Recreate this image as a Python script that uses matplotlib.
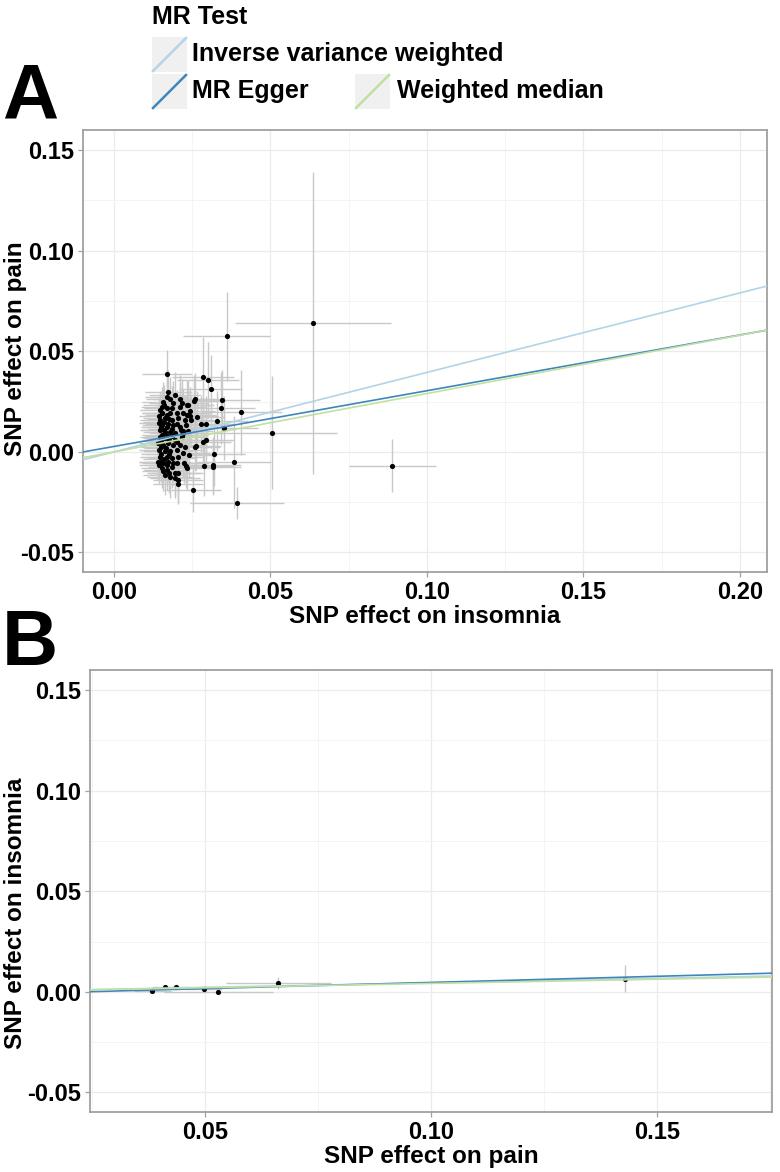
import matplotlib
matplotlib.use("Agg")
import matplotlib.pyplot as plt
from matplotlib.patches import Rectangle
from matplotlib.lines import Line2D
from matplotlib.ticker import FixedLocator, FixedFormatter

plt.rcParams['font.family'] = ['Liberation Sans', 'DejaVu Sans']
plt.rcParams['font.weight'] = 'bold'

# ---------------- data: panel A (insomnia -> pain) ----------------
a_x = [0.0637, 0.0360, 0.0890, 0.0504, 0.0393, 0.0407, 0.0383, 0.0346, 0.0342, 0.0328,
       0.0351, 0.0285, 0.0300, 0.0309, 0.0320, 0.0289, 0.0315, 0.0315, 0.0283, 0.0295,
       0.0279, 0.0293, 0.0168, 0.0251, 0.0264, 0.0257, 0.0259, 0.0235, 0.0244, 0.0234,
       0.0247, 0.0261, 0.0259, 0.0236, 0.0221, 0.0219, 0.0241, 0.0234, 0.0230, 0.0202,
       0.0224, 0.0204, 0.0194, 0.0205, 0.0176, 0.0158, 0.0150,
       0.0174, 0.0195, 0.0168, 0.0179, 0.0158, 0.0211, 0.0216, 0.0152, 0.0147, 0.0168,
       0.0184, 0.0211, 0.0232, 0.0155, 0.0179, 0.0200, 0.0221, 0.0237, 0.0147, 0.0163,
       0.0184, 0.0205, 0.0227, 0.0243, 0.0144, 0.0155, 0.0168, 0.0190, 0.0211, 0.0230,
       0.0147, 0.0163, 0.0179, 0.0195, 0.0216, 0.0147, 0.0163, 0.0176, 0.0195, 0.0216,
       0.0142, 0.0158, 0.0174, 0.0190, 0.0211, 0.0227, 0.0144, 0.0163, 0.0179, 0.0200,
       0.0221, 0.0147, 0.0168, 0.0184, 0.0205, 0.0142, 0.0158, 0.0174, 0.0152, 0.0168,
       0.0184, 0.0195, 0.0163, 0.0179, 0.0205,
       0.0150, 0.0160, 0.0172, 0.0155, 0.0170, 0.0185, 0.0150, 0.0165, 0.0150, 0.0175,
       0.0160, 0.0190, 0.0145, 0.0170, 0.0188, 0.0160, 0.0200, 0.0185, 0.0200, 0.0145,
       0.0170, 0.0155, 0.0213, 0.0160, 0.0177, 0.0150]
a_y = [0.0640, 0.0574, -0.0068, 0.0096, -0.0254, 0.0197, -0.0050, 0.0259, 0.0217, 0.0154,
       0.0119, 0.0372, 0.0358, 0.0312, -0.0010, -0.0068, -0.0067, -0.0076, 0.0048, 0.0058,
       0.0138, 0.0138, 0.0386, -0.0189, 0.0171, 0.0254, 0.0264, 0.0234, 0.0204, 0.0184,
       0.0159, 0.0031, 0.0026, 0.0104, 0.0096, 0.0106, -0.0015, -0.0081, -0.0068, -0.0056,
       -0.0056, -0.0103, -0.0131, -0.0158, -0.0103, -0.0093, -0.0048,
       0.0300, 0.0284, 0.0275, 0.0264, 0.0250, 0.0264, 0.0242, 0.0225, 0.0209, 0.0217,
       0.0217, 0.0225, 0.0234, 0.0192, 0.0192, 0.0192, 0.0192, 0.0184, 0.0159, 0.0168,
       0.0159, 0.0168, 0.0159, 0.0176, 0.0143, 0.0134, 0.0126, 0.0134, 0.0126, 0.0134,
       0.0109, 0.0101, 0.0101, 0.0093, 0.0085, 0.0076, 0.0068, 0.0060, 0.0060, 0.0076,
       0.0043, 0.0035, 0.0043, 0.0035, 0.0035, 0.0026, 0.0010, 0.0002, 0.0002, 0.0010,
       -0.0007, -0.0023, -0.0023, -0.0031, -0.0023, -0.0048, -0.0053, -0.0048, -0.0081, -0.0090,
       -0.0073, -0.0106, -0.0114, -0.0123, -0.0139,
       0.0125, 0.0150, 0.0140, 0.0085, 0.0080, 0.0115, 0.0055, 0.0020, -0.0010, -0.0010,
       -0.0035, -0.0055, 0.0180, 0.0185, 0.0245, 0.0235, 0.0140, 0.0080, 0.0050, -0.0065,
       -0.0065, 0.0195, 0.0110, 0.0110, 0.0165, 0.0025]
a_xerr = [0.0249, 0.0140, 0.0139, 0.0210, 0.0150, 0.0130, 0.0120, 0.0120, 0.0110, 0.0100,
          0.0110, 0.0100, 0.0100, 0.0100, 0.0100, 0.0090, 0.0090, 0.0090, 0.0090, 0.0090,
          0.0090, 0.0090, 0.0080, 0.0090, 0.0090, 0.0090, 0.0090, 0.0080, 0.0080, 0.0080,
          0.0080, 0.0080, 0.0080, 0.0080, 0.0080, 0.0080, 0.0080, 0.0080, 0.0080, 0.0080,
          0.0080, 0.0080, 0.0080, 0.0080, 0.0070, 0.0070, 0.0070,
          0.0075, 0.0082, 0.0070, 0.0078, 0.0068, 0.0085, 0.0086, 0.0066, 0.0064, 0.0071,
          0.0077, 0.0083, 0.0088, 0.0067, 0.0074, 0.0080, 0.0085, 0.0090, 0.0065, 0.0069,
          0.0076, 0.0081, 0.0086, 0.0090, 0.0063, 0.0067, 0.0072, 0.0078, 0.0083, 0.0088,
          0.0064, 0.0069, 0.0074, 0.0079, 0.0084, 0.0064, 0.0070, 0.0073, 0.0079, 0.0084,
          0.0062, 0.0068, 0.0073, 0.0078, 0.0083, 0.0087, 0.0063, 0.0069, 0.0074, 0.0080,
          0.0085, 0.0064, 0.0070, 0.0075, 0.0081, 0.0062, 0.0068, 0.0073, 0.0066, 0.0071,
          0.0076, 0.0079, 0.0070, 0.0074, 0.0081,
          0.0065, 0.0068, 0.0072, 0.0067, 0.0071, 0.0076, 0.0065, 0.0070, 0.0065, 0.0073,
          0.0068, 0.0077, 0.0064, 0.0071, 0.0076, 0.0068, 0.0080, 0.0076, 0.0080, 0.0064,
          0.0071, 0.0067, 0.0083, 0.0068, 0.0073, 0.0065]
a_yerr = [0.0750, 0.0220, 0.0133, 0.0280, 0.0080, 0.0210, 0.0230, 0.0150, 0.0180, 0.0150,
          0.0160, 0.0200, 0.0190, 0.0170, 0.0160, 0.0150, 0.0140, 0.0140, 0.0130, 0.0130,
          0.0140, 0.0140, 0.0120, 0.0110, 0.0130, 0.0130, 0.0130, 0.0120, 0.0120, 0.0120,
          0.0120, 0.0120, 0.0120, 0.0110, 0.0110, 0.0110, 0.0110, 0.0110, 0.0110, 0.0100,
          0.0100, 0.0100, 0.0100, 0.0100, 0.0100, 0.0100, 0.0100,
          0.0105, 0.0115, 0.0102, 0.0108, 0.0098, 0.0118, 0.0120, 0.0096, 0.0094, 0.0101,
          0.0110, 0.0117, 0.0124, 0.0097, 0.0107, 0.0114, 0.0121, 0.0126, 0.0093, 0.0099,
          0.0109, 0.0116, 0.0122, 0.0127, 0.0092, 0.0096, 0.0101, 0.0111, 0.0118, 0.0124,
          0.0093, 0.0099, 0.0106, 0.0112, 0.0120, 0.0094, 0.0100, 0.0104, 0.0112, 0.0119,
          0.0091, 0.0097, 0.0103, 0.0110, 0.0117, 0.0123, 0.0092, 0.0099, 0.0106, 0.0113,
          0.0121, 0.0094, 0.0101, 0.0108, 0.0115, 0.0091, 0.0097, 0.0103, 0.0096, 0.0101,
          0.0108, 0.0112, 0.0099, 0.0106, 0.0115,
          0.0095, 0.0098, 0.0104, 0.0097, 0.0102, 0.0109, 0.0095, 0.0101, 0.0095, 0.0105,
          0.0098, 0.0110, 0.0093, 0.0102, 0.0109, 0.0098, 0.0113, 0.0109, 0.0113, 0.0093,
          0.0102, 0.0097, 0.0117, 0.0098, 0.0104, 0.0095]

# ---------------- data: panel B (pain -> insomnia) ----------------
b_x = [0.0384, 0.0412, 0.0436, 0.0498, 0.0530, 0.0662, 0.1430]
b_y = [0.0005, 0.0023, 0.0025, 0.0016, 0.0001, 0.0046, 0.0065]
b_xerr = [0.0040, 0.0030, 0.0030, 0.0040, 0.0120, 0.0116, 0.0020]
b_yerr = [0.0010, 0.0010, 0.0010, 0.0012, 0.0010, 0.0030, 0.0067]

# MR method fits (intercept, slope)
methods = ["Inverse variance weighted", "MR Egger", "Weighted median"]
colors = ["#b3d3e6", "#3f86bb", "#c2e0a3"]
a_fit = [(0.0, 0.395), (0.0027, 0.277), (0.0, 0.290)]
b_fit = [(0.0, 0.045), (-0.0014, 0.061), (0.0, 0.042)]

x_ticks_a = [0.00, 0.05, 0.10, 0.15, 0.20]
x_labels_a = ["0.00", "0.05", "0.10", "0.15", "0.20"]
x_ticks_b = [0.05, 0.10, 0.15]
x_labels_b = ["0.05", "0.10", "0.15"]
y_ticks = [-0.05, 0.00, 0.05, 0.10, 0.15]
y_labels = ["-0.05", "0.00", "0.05", "0.10", "0.15"]

W, H = 780, 1172
fig = plt.figure(figsize=(W / 100, H / 100), dpi=100)


def fx(px):
    return px / W


def fy(py):
    return 1 - py / H


def style_axes(ax, xt, xl, xminor, xlim, xlabel, ylabel, left_px, width_px,
               ylab_center):
    ax.set_xlim(*xlim)
    ax.set_ylim(-0.0597, 0.160)
    ax.xaxis.set_major_locator(FixedLocator(xt))
    ax.xaxis.set_major_formatter(FixedFormatter(xl))
    ax.xaxis.set_minor_locator(FixedLocator(xminor))
    ax.yaxis.set_major_locator(FixedLocator(y_ticks))
    ax.yaxis.set_major_formatter(FixedFormatter(y_labels))
    ax.yaxis.set_minor_locator(FixedLocator([-0.025, 0.025, 0.075, 0.125]))
    ax.grid(True, which='major', color='#ebebeb', linewidth=0.9, zorder=0)
    ax.grid(True, which='minor', color='#f4f4f4', linewidth=0.7, zorder=0)
    ax.set_axisbelow(True)
    for s in ax.spines.values():
        s.set_color('#a0a0a0')
        s.set_linewidth(1.3)
    ax.tick_params(which='major', length=3.5, width=0.9, color='#a0a0a0',
                   labelsize=17, pad=3, labelcolor='black')
    ax.tick_params(which='minor', length=0)
    for lab in ax.get_xticklabels() + ax.get_yticklabels():
        lab.set_fontweight('bold')
    ax.set_xlabel(xlabel, fontsize=17.5, fontweight='bold', labelpad=1)
    ax.set_ylabel(ylabel, fontsize=17.5, fontweight='bold')
    ax.yaxis.set_label_coords((27 - left_px) / width_px, ylab_center)


# ---------------- Panel A ----------------
axA = fig.add_axes([fx(83), fy(572), (767 - 83) / W, (572 - 130) / H])
style_axes(axA, x_ticks_a, x_labels_a, [0.025, 0.075, 0.125, 0.175],
           (-0.0099, 0.2087), "SNP effect on insomnia", "SNP effect on pain",
           83, 684, 0.505)
axA.errorbar(a_x, a_y, xerr=a_xerr, yerr=a_yerr, fmt='none', ecolor='#c8c8c8',
             elinewidth=1.0, capsize=0, zorder=2)
axA.scatter(a_x, a_y, s=14, color='black', zorder=3, linewidths=0)
for (b0, b1), c in zip(a_fit, colors):
    axA.axline((0, b0), slope=b1, color=c, linewidth=1.2, zorder=4)

# ---------------- Panel B ----------------
axB = fig.add_axes([fx(90), fy(1112), (772 - 90) / W, (1112 - 670) / H])
style_axes(axB, x_ticks_b, x_labels_b, [0.025, 0.075, 0.125, 0.175],
           (0.0246, 0.1754), "SNP effect on pain", "SNP effect on insomnia",
           90, 682, 0.45)
axB.errorbar(b_x, b_y, xerr=b_xerr, yerr=b_yerr, fmt='none', ecolor='#c8c8c8',
             elinewidth=1.0, capsize=0, zorder=2)
axB.scatter(b_x, b_y, s=14, color='black', zorder=3, linewidths=0)
for (b0, b1), c in zip(b_fit, colors):
    axB.axline((0, b0), slope=b1, color=c, linewidth=1.2, zorder=4)

# ---------------- Panel letters ----------------
fig.text(fx(2), fy(119), "A", fontsize=56, fontweight='bold', ha='left', va='baseline')
fig.text(fx(2), fy(665), "B", fontsize=56, fontweight='bold', ha='left', va='baseline')

# ---------------- Legend (drawn manually, ggplot style) ----------------
fig.text(fx(152), fy(17), "MR Test", fontsize=18, fontweight='bold', ha='left', va='center')
key_pos = [(152, 37), (152, 74), (355, 74)]
lab_pos = [(192, 54), (192, 91), (397, 91)]
for (kx, ky), (lx, ly), c, m in zip(key_pos, lab_pos, colors, methods):
    fig.patches.append(Rectangle((fx(kx), fy(ky + 35)), 35 / W, 35 / H,
                                 transform=fig.transFigure, facecolor='#f0f0f0',
                                 edgecolor='none'))
    fig.lines.append(Line2D([fx(kx + 1), fx(kx + 34)], [fy(ky + 34), fy(ky + 1)],
                            transform=fig.transFigure, color=c, linewidth=1.8))
    fig.text(fx(lx), fy(ly), m, fontsize=18, fontweight='bold', ha='left', va='center')

fig.savefig("out.png", dpi=100)
